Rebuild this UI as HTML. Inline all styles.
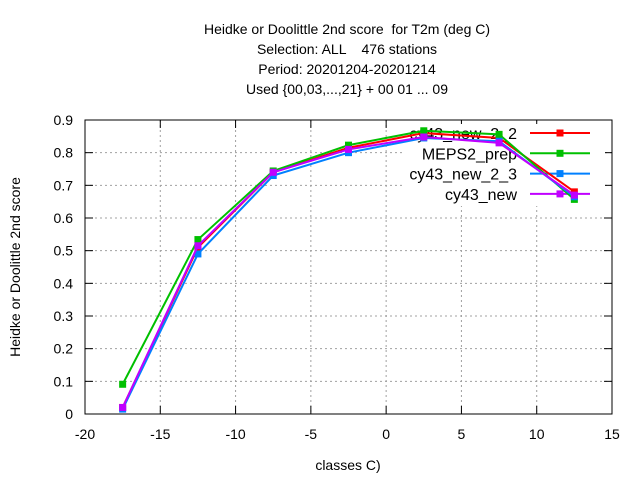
<!DOCTYPE html>
<html><head><meta charset="utf-8"><style>
body{margin:0;background:#fff;}
svg{display:block;font-family:"Liberation Sans",sans-serif;}
text{white-space:pre;}
</style></head><body>
<svg id="c" width="640" height="480" xmlns="http://www.w3.org/2000/svg">
<g font-size="14" fill="#000" text-anchor="middle">
<text x="347" y="34" xml:space="preserve">Heidke or Doolittle 2nd score  for T2m (deg C)</text>
<text x="347" y="54" xml:space="preserve">Selection: ALL    476 stations</text>
<text x="347" y="74">Period: 20201204-20201214</text>
<text x="347" y="94">Used {00,03,...,21} + 00 01 ... 09</text>
</g>
<g id="grid"></g><g id="axes"></g><g id="legend"></g><g id="series"></g>
<text x="20" y="267" font-size="14" text-anchor="middle" transform="rotate(-90 20 267)">Heidke or Doolittle 2nd score</text>
<text x="348" y="470" font-size="14" text-anchor="middle">classes C)</text>
</svg>
<script>
const classes=[-17.5,-12.5,-7.5,-2.5,2.5,7.5,12.5];
const seriesNames=["cy43_new_2_2","MEPS2_prep","cy43_new_2_3","cy43_new"];
const redVals=[0.02,0.51,0.74,0.815,0.86,0.845,0.68];
const greenVals=[0.091,0.534,0.744,0.823,0.867,0.856,0.657];
const blueVals=[0.015,0.49,0.73,0.80,0.845,0.835,0.665];
const purpleVals=[0.02,0.515,0.74,0.81,0.848,0.83,0.67];
const xTicks=[-20,-15,-10,-5,0,5,10,15];
const yTicks=[0,0.1,0.2,0.3,0.4,0.5,0.6,0.7,0.8,0.9];
const NS="http://www.w3.org/2000/svg";
const L=85,R=612,T=120,B=414;
const xs=v=>L+(v+20)/35*(R-L);
const ys=v=>B-v/0.9*(B-T);
function mk(p,tag,at){const e=document.createElementNS(NS,tag);for(const k in at)e.setAttribute(k,at[k]);p.appendChild(e);return e;}
const grid=document.getElementById('grid'),axes=document.getElementById('axes');
yTicks.forEach(v=>{
 if(v>0&&v<0.9){const g=mk(grid,'line',{x1:L,x2:R,y1:ys(v),y2:ys(v),stroke:'#a0a0a0','stroke-dasharray':'2,3','stroke-width':1});
 
 }
 const t=mk(axes,'text',{x:L-12,y:ys(v)+5,'font-size':14,'text-anchor':'end'});t.textContent=String(v);
 
 
 mk(axes,'line',{x1:L,x2:L+8,y1:ys(v),y2:ys(v),stroke:'#000'});
 mk(axes,'line',{x1:R,x2:R-8,y1:ys(v),y2:ys(v),stroke:'#000'});
});
xTicks.forEach(v=>{
 if(v>-20&&v<15){const g=mk(grid,'line',{x1:xs(v),x2:xs(v),y1:T,y2:B,stroke:'#a0a0a0','stroke-dasharray':'2,3','stroke-width':1});
 
 }
 const t=mk(axes,'text',{x:xs(v),y:B+25,'font-size':14,'text-anchor':'middle'});t.textContent=String(v);
 
 
 mk(axes,'line',{x1:xs(v),x2:xs(v),y1:B,y2:B-8,stroke:'#000'});
 mk(axes,'line',{x1:xs(v),x2:xs(v),y1:T,y2:T+8,stroke:'#000'});
});
const fr=mk(axes,'rect',{x:L,y:T,width:R-L,height:B-T,fill:'none',stroke:'#000'});


const lg=document.getElementById('legend');
const lb=mk(lg,'rect',{x:405,y:124,width:200,height:82,fill:'#fff'});


const cols=['#ff0000','#00c000','#0080ff','#c000ff'];
const data=[redVals,greenVals,blueVals,purpleVals];
const ser=document.getElementById('series');
data.forEach((vals,i)=>{
 const g=mk(ser,'g',{});
 
 
 mk(g,'polyline',{points:vals.map((v,j)=>xs(classes[j])+','+ys(v)).join(' '),fill:'none',stroke:cols[i],'stroke-width':2});
 vals.forEach((v,j)=>{const p=mk(g,'rect',{x:xs(classes[j])-3.5,y:ys(v)-3.5,width:7,height:7,fill:cols[i]});
 
 });
 const y=133+i*20.3;
 const le=mk(lg,'g',{});
 
 
 const t=mk(le,'text',{x:517,y:y+6,'font-size':16,'text-anchor':'end'});t.textContent=seriesNames[i];
 mk(le,'line',{x1:530,x2:590,y1:y,y2:y,stroke:cols[i],'stroke-width':2});
 mk(le,'rect',{x:556.5,y:y-3.5,width:7,height:7,fill:cols[i]});
});
</script>
</body></html>
